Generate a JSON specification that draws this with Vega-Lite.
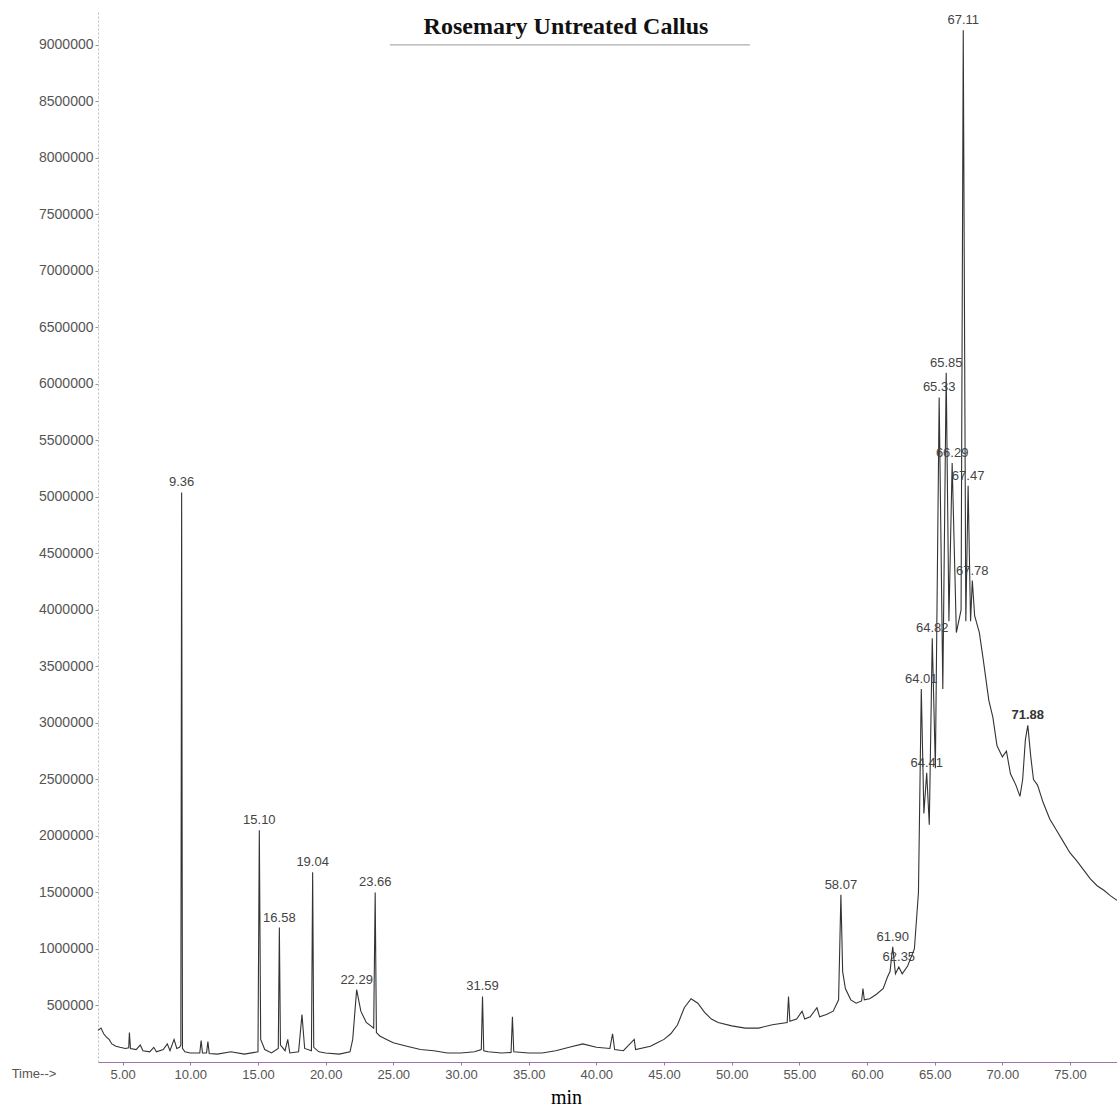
{
  "$schema": "https://vega.github.io/schema/vega-lite/v6.json",
  "width": 1019,
  "height": 1051,
  "autosize": {"type": "none"},
  "padding": {"left": 98, "top": 11, "right": 0, "bottom": 49},
  "background": "white",
  "config": {"view": {"stroke": null}},
  "datasets": {
    "signal": [
      {"t": 3.18, "v": 280000}, {"t": 3.4, "v": 300000}, {"t": 3.6, "v": 250000}, {"t": 3.8, "v": 220000}, {"t": 4.0, "v": 200000},
      {"t": 4.2, "v": 160000}, {"t": 4.5, "v": 140000}, {"t": 4.8, "v": 130000}, {"t": 5.2, "v": 120000}, {"t": 5.45, "v": 125000},
      {"t": 5.5, "v": 260000}, {"t": 5.58, "v": 120000}, {"t": 6.0, "v": 110000}, {"t": 6.3, "v": 150000}, {"t": 6.5, "v": 100000},
      {"t": 7.0, "v": 90000}, {"t": 7.3, "v": 130000}, {"t": 7.5, "v": 90000}, {"t": 8.0, "v": 110000}, {"t": 8.3, "v": 160000},
      {"t": 8.5, "v": 100000}, {"t": 8.8, "v": 200000}, {"t": 9.0, "v": 120000}, {"t": 9.2, "v": 130000}, {"t": 9.3, "v": 150000},
      {"t": 9.36, "v": 5040000}, {"t": 9.42, "v": 120000}, {"t": 9.6, "v": 90000}, {"t": 10.0, "v": 80000}, {"t": 10.7, "v": 80000},
      {"t": 10.8, "v": 190000}, {"t": 10.9, "v": 80000}, {"t": 11.2, "v": 80000}, {"t": 11.3, "v": 180000}, {"t": 11.4, "v": 75000},
      {"t": 12.0, "v": 70000}, {"t": 13.0, "v": 90000}, {"t": 14.0, "v": 70000}, {"t": 15.0, "v": 90000}, {"t": 15.1, "v": 2050000},
      {"t": 15.2, "v": 200000}, {"t": 15.5, "v": 110000}, {"t": 16.0, "v": 80000}, {"t": 16.5, "v": 120000}, {"t": 16.58, "v": 1190000},
      {"t": 16.66, "v": 150000}, {"t": 17.0, "v": 100000}, {"t": 17.2, "v": 200000}, {"t": 17.35, "v": 80000}, {"t": 18.0, "v": 90000},
      {"t": 18.25, "v": 420000}, {"t": 18.45, "v": 120000}, {"t": 18.95, "v": 100000}, {"t": 19.04, "v": 1680000}, {"t": 19.12, "v": 130000},
      {"t": 19.5, "v": 90000}, {"t": 20.0, "v": 80000}, {"t": 21.0, "v": 70000}, {"t": 21.8, "v": 90000}, {"t": 22.0, "v": 200000},
      {"t": 22.29, "v": 640000}, {"t": 22.6, "v": 450000}, {"t": 23.0, "v": 350000}, {"t": 23.55, "v": 300000}, {"t": 23.66, "v": 1500000},
      {"t": 23.75, "v": 260000}, {"t": 24.0, "v": 230000}, {"t": 24.5, "v": 200000}, {"t": 25.0, "v": 170000}, {"t": 26.0, "v": 140000},
      {"t": 27.0, "v": 110000}, {"t": 28.0, "v": 100000}, {"t": 29.0, "v": 80000}, {"t": 30.0, "v": 80000}, {"t": 31.0, "v": 90000},
      {"t": 31.5, "v": 110000}, {"t": 31.59, "v": 580000}, {"t": 31.68, "v": 100000}, {"t": 32.0, "v": 90000}, {"t": 33.0, "v": 80000},
      {"t": 33.7, "v": 85000}, {"t": 33.8, "v": 400000}, {"t": 33.9, "v": 90000}, {"t": 35.0, "v": 80000}, {"t": 36.0, "v": 80000},
      {"t": 37.0, "v": 100000}, {"t": 38.0, "v": 130000}, {"t": 39.0, "v": 160000}, {"t": 40.0, "v": 130000}, {"t": 41.0, "v": 120000},
      {"t": 41.2, "v": 250000}, {"t": 41.35, "v": 110000}, {"t": 42.0, "v": 100000}, {"t": 42.8, "v": 200000}, {"t": 42.9, "v": 110000},
      {"t": 44.0, "v": 140000}, {"t": 44.5, "v": 170000}, {"t": 45.0, "v": 200000}, {"t": 45.5, "v": 250000}, {"t": 46.0, "v": 330000},
      {"t": 46.5, "v": 480000}, {"t": 47.0, "v": 560000}, {"t": 47.5, "v": 520000}, {"t": 48.0, "v": 440000}, {"t": 48.5, "v": 380000},
      {"t": 49.0, "v": 350000}, {"t": 50.0, "v": 320000}, {"t": 51.0, "v": 300000}, {"t": 52.0, "v": 300000}, {"t": 53.0, "v": 330000},
      {"t": 54.1, "v": 350000}, {"t": 54.2, "v": 580000}, {"t": 54.3, "v": 360000}, {"t": 54.8, "v": 380000}, {"t": 55.2, "v": 450000},
      {"t": 55.4, "v": 380000}, {"t": 55.8, "v": 400000}, {"t": 56.3, "v": 480000}, {"t": 56.5, "v": 400000}, {"t": 57.0, "v": 420000},
      {"t": 57.5, "v": 450000}, {"t": 57.9, "v": 550000}, {"t": 58.07, "v": 1480000}, {"t": 58.2, "v": 800000}, {"t": 58.4, "v": 650000},
      {"t": 58.8, "v": 550000}, {"t": 59.2, "v": 520000}, {"t": 59.6, "v": 540000}, {"t": 59.7, "v": 650000}, {"t": 59.8, "v": 550000},
      {"t": 60.2, "v": 560000}, {"t": 60.7, "v": 600000}, {"t": 61.2, "v": 650000}, {"t": 61.5, "v": 750000}, {"t": 61.7, "v": 800000},
      {"t": 61.9, "v": 1020000}, {"t": 62.1, "v": 780000}, {"t": 62.35, "v": 840000}, {"t": 62.6, "v": 780000}, {"t": 63.0, "v": 850000},
      {"t": 63.5, "v": 1000000}, {"t": 63.8, "v": 1500000}, {"t": 64.01, "v": 3300000}, {"t": 64.2, "v": 2200000}, {"t": 64.41, "v": 2560000},
      {"t": 64.6, "v": 2100000}, {"t": 64.82, "v": 3750000}, {"t": 65.05, "v": 2600000}, {"t": 65.33, "v": 5880000}, {"t": 65.6, "v": 3300000},
      {"t": 65.85, "v": 6100000}, {"t": 66.05, "v": 3900000}, {"t": 66.29, "v": 5300000}, {"t": 66.6, "v": 3800000}, {"t": 66.95, "v": 4000000},
      {"t": 67.11, "v": 9130000}, {"t": 67.3, "v": 3900000}, {"t": 67.47, "v": 5100000}, {"t": 67.65, "v": 3900000}, {"t": 67.78, "v": 4260000},
      {"t": 67.95, "v": 3950000}, {"t": 68.3, "v": 3800000}, {"t": 68.6, "v": 3550000}, {"t": 69.0, "v": 3200000}, {"t": 69.3, "v": 3050000},
      {"t": 69.6, "v": 2800000}, {"t": 70.0, "v": 2700000}, {"t": 70.3, "v": 2750000}, {"t": 70.6, "v": 2550000}, {"t": 71.0, "v": 2450000},
      {"t": 71.3, "v": 2350000}, {"t": 71.5, "v": 2500000}, {"t": 71.7, "v": 2850000}, {"t": 71.88, "v": 2980000}, {"t": 72.1, "v": 2700000},
      {"t": 72.3, "v": 2500000}, {"t": 72.6, "v": 2450000}, {"t": 73.0, "v": 2300000}, {"t": 73.5, "v": 2150000}, {"t": 74.0, "v": 2050000},
      {"t": 74.5, "v": 1950000}, {"t": 75.0, "v": 1850000}, {"t": 75.5, "v": 1780000}, {"t": 76.0, "v": 1700000}, {"t": 76.5, "v": 1620000},
      {"t": 77.0, "v": 1560000}, {"t": 77.5, "v": 1520000}, {"t": 78.0, "v": 1470000}, {"t": 78.47, "v": 1430000}
    ],
    "peaks": [
      {"t": 9.36, "v": 5040000, "label": "9.36"},
      {"t": 15.1, "v": 2050000, "label": "15.10"},
      {"t": 16.58, "v": 1190000, "label": "16.58"},
      {"t": 19.04, "v": 1680000, "label": "19.04"},
      {"t": 22.29, "v": 640000, "label": "22.29"},
      {"t": 23.66, "v": 1500000, "label": "23.66"},
      {"t": 31.59, "v": 580000, "label": "31.59"},
      {"t": 58.07, "v": 1480000, "label": "58.07"},
      {"t": 61.9, "v": 1020000, "label": "61.90"},
      {"t": 62.35, "v": 840000, "label": "62.35"},
      {"t": 64.01, "v": 3300000, "label": "64.01"},
      {"t": 64.41, "v": 2560000, "label": "64.41"},
      {"t": 64.82, "v": 3750000, "label": "64.82"},
      {"t": 65.33, "v": 5880000, "label": "65.33"},
      {"t": 65.85, "v": 6100000, "label": "65.85"},
      {"t": 66.29, "v": 5300000, "label": "66.29"},
      {"t": 67.11, "v": 9130000, "label": "67.11"},
      {"t": 67.47, "v": 5100000, "label": "67.47"},
      {"t": 67.78, "v": 4260000, "label": "67.78"},
      {"t": 71.88, "v": 2980000, "label": "71.88"}
    ],
    "one": [{}]
  },
  "layer": [
    {
      "data": {"name": "signal"},
      "mark": {"type": "line", "color": "#333333", "strokeWidth": 1.1, "interpolate": "linear"},
      "encoding": {
        "x": {
          "field": "t", "type": "quantitative",
          "scale": {"domain": [3.18, 78.47], "nice": false, "zero": false},
          "axis": {
            "values": [5, 10, 15, 20, 25, 30, 35, 40, 45, 50, 55, 60, 65, 70, 75],
            "format": ".2f", "grid": false,
            "title": "min", "titleFont": "Liberation Serif", "titleFontSize": 20, "titleFontWeight": "normal",
            "titleColor": "#000000", "titlePadding": 6, "titleX": 468, "titleAlign": "center",
            "labelFont": "Liberation Sans", "labelFontSize": 13, "labelColor": "#555555",
            "domainColor": "#a070b0", "domainWidth": 1.2,
            "tickColor": "#888888", "tickSize": 3, "labelPadding": 3
          }
        },
        "y": {
          "field": "v", "type": "quantitative",
          "scale": {"domain": [0, 9300000], "nice": false, "zero": false},
          "axis": {
            "values": [500000, 1000000, 1500000, 2000000, 2500000, 3000000, 3500000, 4000000, 4500000, 5000000, 5500000, 6000000, 6500000, 7000000, 7500000, 8000000, 8500000, 9000000],
            "format": "d", "grid": false, "title": null,
            "labelFont": "Liberation Sans", "labelFontSize": 14, "labelColor": "#555555",
            "domainColor": "#bbbbbb", "domainDash": [2, 2],
            "tickColor": "#999999", "tickSize": 3, "labelPadding": 2
          }
        }
      }
    },
    {
      "data": {"name": "peaks"},
      "transform": [{"filter": "datum.label != '71.88'"}],
      "mark": {"type": "text", "font": "Liberation Sans", "fontSize": 13, "color": "#444444", "dy": -10, "baseline": "middle", "align": "center", "clip": false},
      "encoding": {
        "x": {"field": "t", "type": "quantitative"},
        "y": {"field": "v", "type": "quantitative"},
        "text": {"field": "label"}
      }
    },
    {
      "data": {"name": "peaks"},
      "transform": [{"filter": "datum.label == '71.88'"}],
      "mark": {"type": "text", "font": "Liberation Sans", "fontSize": 13, "fontWeight": "bold", "color": "#333333", "dy": -10, "baseline": "middle", "align": "center", "clip": false},
      "encoding": {
        "x": {"field": "t", "type": "quantitative"},
        "y": {"field": "v", "type": "quantitative"},
        "text": {"field": "label"}
      }
    },
    {
      "data": {"name": "one"},
      "mark": {"type": "text", "font": "Liberation Serif", "fontSize": 24, "fontWeight": "bold", "color": "#111111", "baseline": "middle", "align": "center", "clip": false},
      "encoding": {
        "x": {"datum": 37.76},
        "y": {"datum": 9160000},
        "text": {"value": "Rosemary Untreated Callus"}
      }
    },
    {
      "data": {"name": "one"},
      "mark": {"type": "rule", "color": "#999999", "strokeWidth": 1},
      "encoding": {
        "x": {"datum": 24.75},
        "x2": {"datum": 51.35},
        "y": {"datum": 9000000}
      }
    },
    {
      "data": {"name": "one"},
      "mark": {"type": "text", "font": "Liberation Sans", "fontSize": 13, "color": "#555555", "baseline": "top", "align": "left", "dy": 6, "clip": false},
      "encoding": {
        "x": {"datum": -3.2},
        "y": {"datum": 0},
        "text": {"value": "Time-->"}
      }
    }
  ]
}
